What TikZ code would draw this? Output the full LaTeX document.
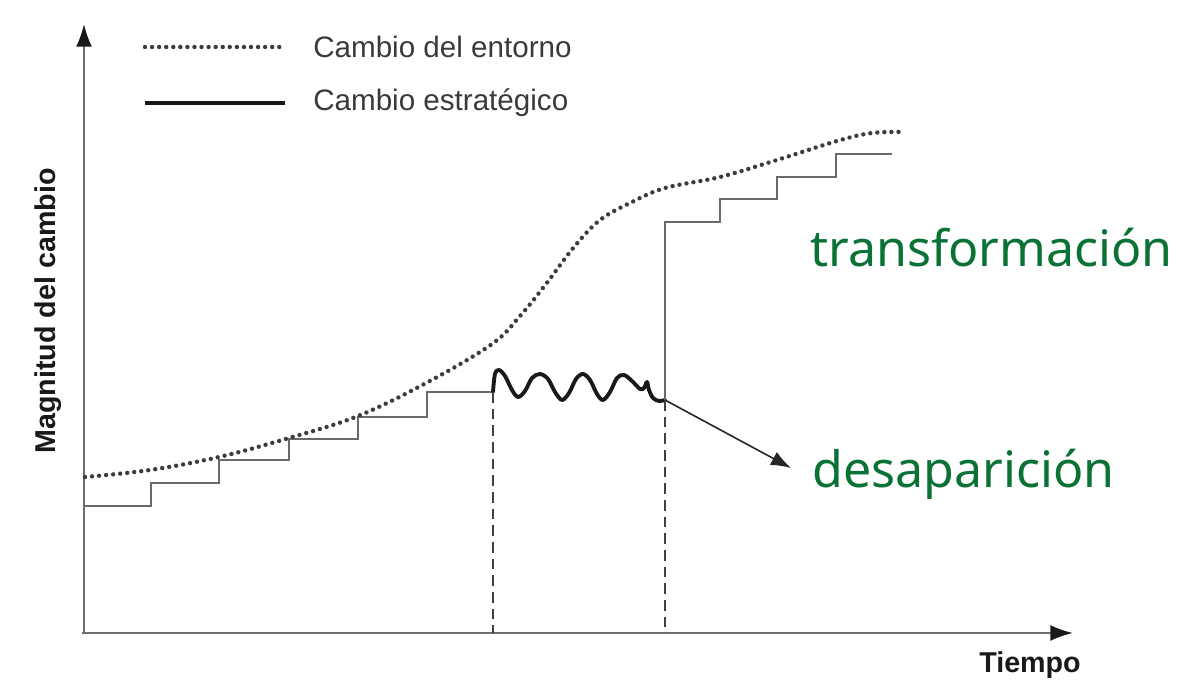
\documentclass[tikz,border=0pt]{standalone}
\usepackage{fontspec}
\setmainfont{Liberation Sans}
\newfontfamily\greenfont{Noto Sans}
\usetikzlibrary{arrows.meta}
\definecolor{axisgray}{HTML}{6E6E6E}
\definecolor{stairgray}{HTML}{6A6A6A}
\definecolor{dotgray}{HTML}{3C3C3C}
\definecolor{txtgray}{HTML}{3A3A3A}
\definecolor{mygreen}{HTML}{0B7236}
\tikzset{
  axisline/.style={draw=axisgray, line width=1.6pt, -{Latex[length=17pt,width=12pt,color=black!90]}},
  stair/.style={draw=stairgray, line width=1.5pt},
  envdots/.style={draw=dotgray, line width=3.3pt, line cap=round, dash pattern=on 0pt off 5.3pt},
  strat/.style={draw=black!90, line width=2.9pt, line join=round, line cap=round},
  vdash/.style={draw=black!75, line width=1.1pt, dash pattern=on 8pt off 4.5pt},
  legtext/.style={font=\fontsize{22.2}{25}\selectfont, text=txtgray, anchor=west, inner sep=0pt},
  axtext/.style={font=\fontsize{21.5}{24}\selectfont\bfseries, text=black!90, inner sep=0pt},
  greentext/.style={font=\greenfont\fontsize{37.6}{41}\selectfont, text=mygreen, anchor=base west, inner sep=0pt},
  outarrow/.style={draw=black!85, line width=1.2pt, -{Latex[length=15pt,width=11pt]}}
}
\begin{document}
\begin{tikzpicture}[x=0.75pt,y=-0.75pt]
\useasboundingbox (0,0) rectangle (1178,684);
% axes
\coordinate (O) at (84,634);
\coordinate (ytip) at (84,24);
\coordinate (xtip) at (1073,633);
\draw[axisline] (O) -- (ytip);
\draw[axisline] (82,633) -- (xtip);
\node[axtext, rotate=90] (ylab) at (48,311) {Magnitud del cambio};
\node[axtext] (xlab) at (1030,665) {Tiempo};
% legend
\coordinate (l1a) at (145,47); \coordinate (l1b) at (285,47);
\coordinate (l2a) at (145,103); \coordinate (l2b) at (285,103);
\draw[envdots] (l1a) -- (l1b);
\draw[strat, line width=3.2pt, line cap=butt] (l2a) -- (l2b);
\node[legtext] (leg1) at (313,47) {Cambio del entorno};
\node[legtext] (leg2) at (313,103) {Cambio estratégico};
% staircase before
\draw[stair] (84,506) -- (151,506) -- (151,483) -- (219,483) -- (219,460) -- (289,460) -- (289,439) -- (358,439) -- (358,417) -- (427,417) -- (427,392) -- (493,392);
% wavy strategic line
\coordinate (w0) at (493,392);
\coordinate (w1) at (665,400);
\draw[strat] plot[smooth, tension=0.55] coordinates {(493,392) (495,374) (499,370) (505,376) (512,390) (518,397) (525,391) (532,378) (540,374) (548,379) (555,392) (562,400) (569,393) (576,379) (583,374) (590,380) (597,394) (603,400) (610,392) (617,378) (624,375) (632,381) (640,389) (644,388) (647,382) (649,390) (653,398) (659,401) (665,400)};
% staircase after transformation
\draw[stair] (665,400) -- (665,222) -- (720,222) -- (720,199) -- (777,199) -- (777,177) -- (836,177) -- (836,154) -- (892,154);
% dashed verticals
\draw[vdash] (w0) -- (493,633);
\draw[vdash] (w1) -- (665,633);
% decline arrow
\coordinate (dtip) at (791,468);
\draw[outarrow] (w1) -- (dtip);
% environment curve
\draw[envdots] plot[smooth, tension=0.6] coordinates {(85,477) (150,470) (219,457) (289,438) (358,416) (428,382) (492,344) (520,316) (546,284) (574,247) (600,220) (630,203) (665,188) (720,177) (777,160) (837,141) (872,133) (905,132)};
% green labels
\node[greentext] (trans) at (810,267) {transformación};
\node[greentext] (desap) at (812,487) {desaparición};
\end{tikzpicture}
\end{document}
